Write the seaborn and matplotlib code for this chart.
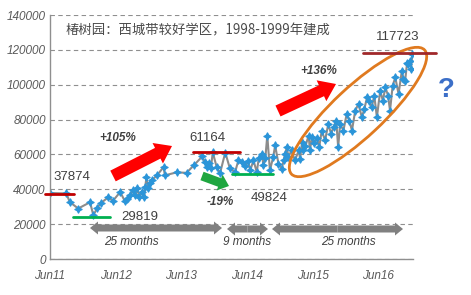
import numpy as np
import pandas as pd
import matplotlib
matplotlib.use("Agg")
import matplotlib.pyplot as plt
import matplotlib.transforms as mtransforms
from matplotlib.patches import FancyArrow, Ellipse
from matplotlib.lines import Line2D
import seaborn as sns

# ---------------- data ----------------
dates = [2011.42, 2011.67, 2011.72, 2011.85, 2012.03, 2012.08, 2012.14, 2012.19, 2012.31, 2012.38,
         2012.49, 2012.56, 2012.60, 2012.64, 2012.69, 2012.72, 2012.75, 2012.78, 2012.82, 2012.85,
         2012.87, 2012.89, 2012.92, 2012.94, 2012.97, 2013.05, 2013.15, 2013.17, 2013.35, 2013.50,
         2013.61, 2013.74, 2013.78, 2013.81, 2013.84, 2013.87, 2013.90, 2013.96, 2014.01, 2014.09,
         2014.16, 2014.24, 2014.29, 2014.34, 2014.39, 2014.44, 2014.47, 2014.52, 2014.57, 2014.60,
         2014.65, 2014.67, 2014.70, 2014.73, 2014.77, 2014.82, 2014.85, 2014.90, 2014.95, 2014.98,
         2015.00, 2015.03, 2015.05, 2015.10, 2015.15, 2015.21, 2015.23, 2015.26, 2015.28, 2015.31,
         2015.36, 2015.38, 2015.41, 2015.44, 2015.49, 2015.52, 2015.56, 2015.61, 2015.66, 2015.70,
         2015.74, 2015.78, 2015.81, 2015.84, 2015.89, 2015.94, 2015.98, 2016.02, 2016.07, 2016.12,
         2016.17, 2016.21, 2016.25, 2016.28, 2016.32, 2016.36, 2016.40, 2016.45, 2016.49, 2016.53,
         2016.57, 2016.60, 2016.64, 2016.68, 2016.73, 2016.78, 2016.80, 2016.83, 2016.86, 2016.88,
         2016.91, 2016.92, 2016.94]
prices = [37874, 37600, 32740, 28970, 32570, 25140, 29140, 32000, 35430, 33430,
          38460, 33140, 34690, 36570, 39430, 36570, 40570, 35600, 38460, 35430,
          41310, 46860, 40570, 43430, 45140, 48000, 52740, 48000, 49710, 49430,
          53710, 58860, 55430, 52740, 54860, 52000, 61164, 52570, 49140, 61100,
          52000, 49890, 56570, 55430, 53140, 56000, 50860, 56570, 49824, 57710,
          60400, 53710, 57710, 70860, 50860, 58460, 65140, 54690, 51830, 56570,
          60400, 64170, 58460, 62290, 56570, 62290, 57540, 67030, 62290, 64570,
          70860, 62290, 69890, 66290, 69140, 64000, 73710, 68000, 77540, 72000,
          75600, 79430, 64170, 77540, 73710, 83260, 79430, 73710, 85140, 88970,
          81310, 86290, 92740, 90860, 87030, 93710, 81310, 96570, 90860, 98460,
          93710, 85140, 99430, 104170, 94690, 108000, 103430, 102290, 112570, 111830,
          113710, 109140, 117723]

tick_pos = [2011.42, 2012.42, 2013.42, 2014.42, 2015.42, 2016.42]
tick_labels = ["Jun11", "Jun12", "Jun13", "Jun14", "Jun15", "Jun16"]
y_ticks = [0, 20000, 40000, 60000, 80000, 100000, 120000, 140000]

title_text = "椿树园：西城带较好学区，1998-1999年建成"
peak1, trough1, peak2, trough2, peak3 = "37874", "29819", "61164", "49824", "117723"
pct_up1, pct_down, pct_up2 = "+105%", "-19%", "+136%"
dur1, dur2, dur3 = "25 months", "9 months", "25 months"

df = pd.DataFrame({"date": dates, "price": prices})

# ---------------- figure ----------------
sns.set_style("white")
plt.rcParams["font.family"] = ["Liberation Sans", "Noto Sans CJK SC", "DejaVu Sans"]

W, H = 471, 295
fig = plt.figure(figsize=(W / 100, H / 100), dpi=100)
ax = fig.add_axes([50 / W, 1 - 259 / H, (413 - 50) / W, (259 - 15) / H])

sns.lineplot(data=df, x="date", y="price", ax=ax, color="#8c8c8c", lw=1.5,
             marker=(4, 1, 0), markersize=5.5, markerfacecolor="#2b95d9",
             markeredgecolor="#2b95d9", estimator=None, sort=False)

ax.set_xlim(2011.42, 2016.95)
ax.set_ylim(0, 140000)
ax.set_yticks(y_ticks)
ax.set_yticklabels([str(v) for v in y_ticks])
ax.set_xticks(tick_pos)
ax.set_xticklabels(tick_labels)
ax.set_xlabel("")
ax.set_ylabel("")
for lab in ax.get_xticklabels() + ax.get_yticklabels():
    lab.set_fontstyle("italic")
    lab.set_fontsize(8.5)
    lab.set_color("#595959")
ax.tick_params(axis="both", length=0, pad=3)
ax.tick_params(axis="x", pad=8)
ax.yaxis.grid(True, ls=(0, (4, 3)), color="#8f8f8f", lw=0.8)
ax.set_axisbelow(True)
for s in ["top", "right"]:
    ax.spines[s].set_visible(False)
for s in ["left", "bottom"]:
    ax.spines[s].set_color("#8f8f8f")
    ax.spines[s].set_linewidth(1.0)

# pixel transform (origin top-left, y downwards)
T = mtransforms.Affine2D().scale(1, -1).translate(0, H)

def hline(x0, x1, y, color):
    fig.add_artist(Line2D([x0, x1], [y, y], transform=T, color=color, lw=2))

def ptext(x, y, s, **kw):
    kw.setdefault("ha", "center")
    kw.setdefault("va", "center")
    kw.setdefault("color", "#404040")
    fig.text(x, y, s, transform=T, **kw)

def arrow(x0, y0, x1, y1, color, width, hw, hl):
    fig.add_artist(FancyArrow(x0, y0, x1 - x0, y1 - y0, width=width, head_width=hw,
                              head_length=hl, length_includes_head=True,
                              transform=T, color=color, lw=0))

def darrow(x0, x1, y, color="#808080"):
    xm = (x0 + x1) / 2
    arrow(xm, y, x1, y, color, 7, 13, 8)
    arrow(xm, y, x0, y, color, 7, 13, 8)

# title
ptext(65, 30, title_text, ha="left", fontsize=9.6, color="#4a4a4a",
      family=["Noto Sans CJK SC", "DejaVu Sans"])

# level lines
hline(45, 74, 193.7, "#c00000")
hline(73, 110, 217.3, "#00b050")
hline(193, 240, 152, "#c00000")
hline(232, 273, 174.3, "#00b050")
hline(363, 436, 53.3, "#a0282a")

# value labels
ptext(72, 177, peak1, fontsize=9.5)
ptext(140, 217, trough1, fontsize=9.5)
ptext(207, 138, peak2, fontsize=9.5)
ptext(269, 198, trough2, fontsize=9.5)
ptext(398, 37, peak3, fontsize=9.5)

# percentage labels
ptext(118, 138, pct_up1, fontsize=8.5, fontweight="bold", fontstyle="italic")
ptext(220, 202, pct_down, fontsize=8.5, fontweight="bold", fontstyle="italic")
ptext(319, 71, pct_up2, fontsize=8.5, fontweight="bold", fontstyle="italic")

# big arrows
arrow(113, 176, 172, 146, "#ff0000", 12, 23, 16)
arrow(202, 176, 229, 186, "#1fa640", 9, 17, 10)
arrow(278, 111, 336, 84, "#ff0000", 12, 23, 16)

# duration arrows and labels
darrow(90, 222, 228)
darrow(227, 268, 229)
darrow(272, 403, 229)
ptext(131, 242, dur1, fontsize=8.5, fontstyle="italic")
ptext(247, 242, dur2, fontsize=8.5, fontstyle="italic")
ptext(348, 242, dur3, fontsize=8.5, fontstyle="italic")

# ellipse around last run-up
fig.add_artist(Ellipse((358, 112), width=182, height=50, angle=-43,
                       transform=T, fill=False, edgecolor="#e07a1f", lw=2))

# question mark
ptext(446, 90, "?", fontsize=20, fontweight="bold", color="#3c6fc8")

fig.savefig("out.png", dpi=100)
